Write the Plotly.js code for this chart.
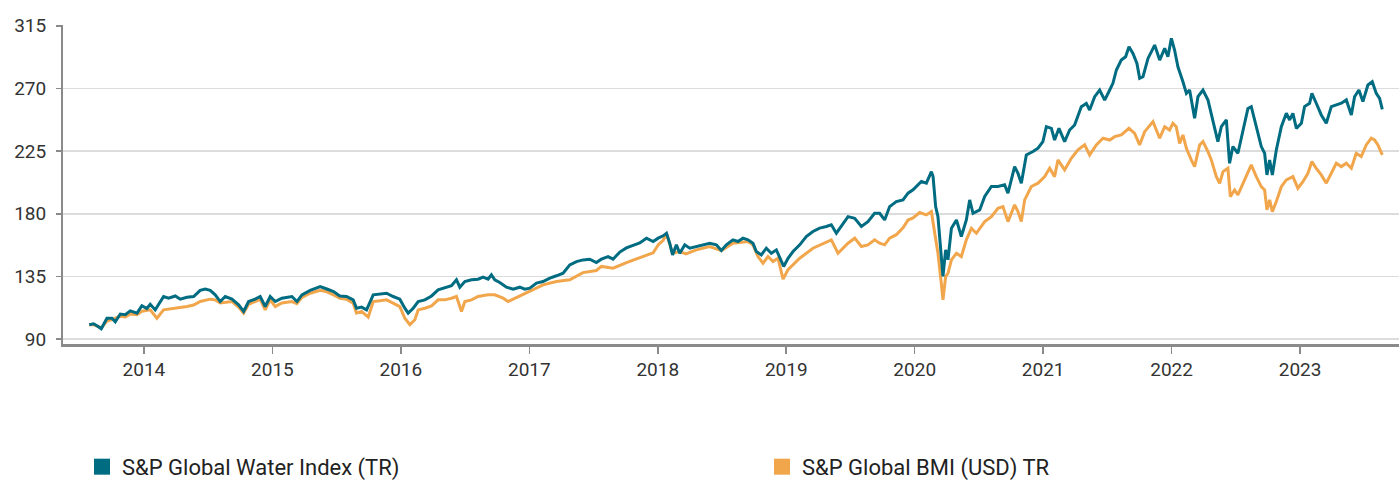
<!DOCTYPE html>
<html>
<head>
<meta charset="utf-8">
<script src="https://cdn.plot.ly/plotly-3.0.1.min.js"></script>
<style>html,body{margin:0;padding:0;background:#fff;}#chart{width:1399px;height:481px;}</style>
</head>
<body>
<div id="chart"></div>
<script>
// Decimal-year positions and index levels
const waterX = [2013.574,2013.608,2013.640,2013.668,2013.712,2013.751,2013.777,2013.816,2013.855,2013.894,2013.946,2013.984,2014.023,2014.049,2014.088,2014.153,2014.192,2014.244,2014.283,2014.335,2014.387,2014.438,2014.477,2014.516,2014.555,2014.594,2014.633,2014.685,2014.737,2014.776,2014.815,2014.866,2014.905,2014.944,2014.983,2015.022,2015.074,2015.152,2015.191,2015.230,2015.294,2015.372,2015.424,2015.476,2015.525,2015.577,2015.629,2015.655,2015.694,2015.733,2015.785,2015.837,2015.889,2015.940,2015.992,2016.031,2016.057,2016.096,2016.135,2016.187,2016.239,2016.290,2016.342,2016.394,2016.433,2016.459,2016.498,2016.550,2016.601,2016.640,2016.679,2016.705,2016.731,2016.770,2016.822,2016.874,2016.926,2016.965,2017.004,2017.056,2017.107,2017.160,2017.211,2017.263,2017.315,2017.367,2017.418,2017.470,2017.522,2017.561,2017.613,2017.652,2017.704,2017.756,2017.808,2017.860,2017.912,2017.964,2018.003,2018.042,2018.068,2018.093,2018.115,2018.145,2018.171,2018.210,2018.249,2018.300,2018.352,2018.404,2018.456,2018.495,2018.534,2018.585,2018.624,2018.663,2018.702,2018.741,2018.767,2018.806,2018.845,2018.884,2018.923,2018.949,2018.980,2019.014,2019.053,2019.105,2019.156,2019.208,2019.260,2019.312,2019.351,2019.390,2019.429,2019.481,2019.533,2019.585,2019.636,2019.688,2019.727,2019.766,2019.805,2019.857,2019.909,2019.948,2019.987,2020.026,2020.052,2020.091,2020.130,2020.143,2020.163,2020.181,2020.200,2020.220,2020.241,2020.259,2020.286,2020.325,2020.363,2020.402,2020.428,2020.454,2020.506,2020.545,2020.597,2020.648,2020.700,2020.726,2020.778,2020.804,2020.830,2020.869,2020.921,2020.960,2020.998,2021.025,2021.064,2021.089,2021.123,2021.167,2021.206,2021.245,2021.297,2021.336,2021.362,2021.401,2021.440,2021.479,2021.518,2021.543,2021.570,2021.608,2021.642,2021.668,2021.699,2021.730,2021.751,2021.777,2021.816,2021.868,2021.907,2021.946,2021.971,2021.998,2022.023,2022.049,2022.088,2022.115,2022.140,2022.179,2022.205,2022.244,2022.283,2022.321,2022.360,2022.387,2022.426,2022.451,2022.477,2022.516,2022.555,2022.594,2022.620,2022.659,2022.698,2022.724,2022.742,2022.763,2022.784,2022.815,2022.854,2022.893,2022.919,2022.944,2022.971,2023.010,2023.035,2023.074,2023.092,2023.126,2023.165,2023.204,2023.243,2023.282,2023.321,2023.360,2023.399,2023.424,2023.458,2023.489,2023.528,2023.562,2023.593,2023.619,2023.640];
const waterY = [100.3,101,99.2,97.4,105,105,102.4,108,107.5,110.3,108.7,114,112,115,111,120.6,119.4,121,118.7,120,120.6,125,126,125,121.8,117,120.6,118.7,114.6,109.9,117,118.7,120.6,113.4,120.6,117,119.4,120.6,117,121.8,125,127.8,126,124.2,121,120.6,118.2,112.2,113,111,121.8,122.3,123,120.6,118.7,112.2,108.7,112.2,117,118.2,121,125.4,126.6,128.3,132.6,127.3,131.4,132.6,133,134.5,133,136.2,132.6,130.7,127.3,125.9,127.3,125.9,126.6,130.2,131.4,133.8,135.5,137.4,143.3,145.7,146.9,147.4,145,147.4,149.3,147.4,152.5,155.5,157.3,159.1,162.5,160.1,162.5,164.2,166.1,158.9,150.5,157.7,151.7,157.7,155.3,156.5,157.7,158.9,157.7,153.6,157.7,161.3,160.1,162.5,161.3,158.9,152.9,150.5,155.3,151.7,154.1,148.1,142.2,148.1,152.9,157.7,163.7,167.3,169.7,170.9,172.1,166.1,170.9,178,176.8,170.9,174.4,180.4,180.4,175.6,185.2,188.8,190,194.8,197.2,200.8,203.2,202,210.3,206.7,185.2,178,156.5,135,154.1,147,169.7,175.6,163.7,175.6,190,180.4,182.8,192.4,199.6,199.6,200.8,194.8,213.9,209.1,201.9,222.3,224.7,227.1,231.9,242.6,241.4,233,241.4,231.9,240.2,243.8,256.9,259.3,254.5,264.1,268.9,261.7,268.9,273.7,283.3,290.4,292.8,300,295.2,288,277.3,278.5,291.6,301.2,290.4,298.8,292.8,306,297.6,285.6,274.8,266.5,268.9,248.6,264.1,268.9,261.7,247.4,231.9,242.6,247.4,216.3,228.3,223.5,240.2,255.7,256.9,242.6,228.3,223.5,207.9,218.7,207.9,225.8,242.6,252.2,247.4,252.2,241.4,245,257,259.4,266.5,259.4,251,245,257,258.2,259.4,261.8,251,264.1,268.9,260.6,272.5,274.9,266.5,262.9,255];

const bmiX = [2013.574,2013.608,2013.668,2013.712,2013.751,2013.816,2013.855,2013.894,2013.946,2013.984,2014.049,2014.101,2014.153,2014.244,2014.335,2014.387,2014.438,2014.516,2014.555,2014.594,2014.685,2014.737,2014.776,2014.815,2014.866,2014.905,2014.944,2014.983,2015.022,2015.074,2015.152,2015.191,2015.230,2015.294,2015.372,2015.424,2015.476,2015.525,2015.577,2015.629,2015.655,2015.694,2015.746,2015.785,2015.837,2015.889,2015.940,2015.992,2016.031,2016.070,2016.109,2016.135,2016.187,2016.239,2016.290,2016.342,2016.394,2016.433,2016.472,2016.498,2016.550,2016.601,2016.679,2016.731,2016.796,2016.835,2016.874,2016.926,2017.004,2017.107,2017.211,2017.315,2017.418,2017.522,2017.561,2017.652,2017.756,2017.860,2017.912,2017.964,2018.003,2018.042,2018.068,2018.093,2018.115,2018.171,2018.219,2018.300,2018.404,2018.495,2018.585,2018.702,2018.741,2018.780,2018.819,2018.858,2018.897,2018.936,2018.975,2019.014,2019.105,2019.208,2019.312,2019.351,2019.403,2019.481,2019.533,2019.585,2019.636,2019.688,2019.727,2019.766,2019.805,2019.857,2019.909,2019.948,2019.987,2020.039,2020.091,2020.130,2020.156,2020.181,2020.207,2020.220,2020.241,2020.259,2020.286,2020.325,2020.363,2020.402,2020.441,2020.480,2020.545,2020.597,2020.648,2020.687,2020.726,2020.778,2020.804,2020.830,2020.856,2020.908,2020.960,2021.012,2021.051,2021.089,2021.115,2021.167,2021.219,2021.271,2021.323,2021.362,2021.414,2021.466,2021.518,2021.557,2021.608,2021.668,2021.712,2021.751,2021.790,2021.855,2021.907,2021.946,2021.984,2022.010,2022.036,2022.062,2022.088,2022.115,2022.153,2022.179,2022.218,2022.244,2022.283,2022.309,2022.348,2022.374,2022.400,2022.438,2022.457,2022.490,2022.516,2022.555,2022.594,2022.620,2022.659,2022.698,2022.724,2022.742,2022.763,2022.784,2022.815,2022.854,2022.893,2022.944,2022.983,2023.022,2023.061,2023.092,2023.126,2023.165,2023.204,2023.243,2023.282,2023.321,2023.360,2023.399,2023.437,2023.476,2023.515,2023.554,2023.580,2023.606,2023.640];
const bmiY = [100.3,100.5,98,103,104,106.5,106,108,107.5,110,111,105,111,112,113.4,114.5,117,118.7,118.2,116,117,113,108.7,115,117,118.5,111,118.2,113.4,116,117,115.5,120,123,125,124,121.8,119.4,118.7,115.8,108.7,109.9,105.8,117,117.5,118.2,115.8,113.4,105,100.3,103.9,111,112.2,113.9,118.2,118.2,119.4,120.6,109.9,117,118.2,120.6,121.8,121.8,119.4,117,118.7,121,124.2,129,131.4,132.6,137.8,139.3,142.2,141,145,148.5,150.5,152,157.7,161,165.6,158,151.7,152.9,151.2,154.1,156.5,153.6,158.9,160.1,157.7,149.3,144.5,149.3,145.7,148.1,133.1,139.8,148.1,155.3,160.1,161.3,151.7,158.9,162.5,156.5,157.7,161.3,158.9,157.7,162.5,165,170,175.5,177,180.9,179.2,181.6,166,151.7,130.1,118.2,134.9,137.3,146.9,151.7,149.3,161.3,169.6,166,174.4,178,184,185.2,174.4,186.4,181.6,174.4,190,199.6,202,206.7,212.7,206.7,218.7,211.5,219.9,225.9,229.5,222.3,229.5,234.3,233,235.4,236.6,241.4,237.8,229.5,239,246.2,234.3,242.6,240.2,245,242.6,230.6,236.6,227,218.7,213.9,229.5,231.9,224.7,218.7,206.7,201.9,210.3,212.7,192.3,197.1,193.6,201.9,209.1,215.1,206.7,199.5,197.1,182.8,190,181.6,188.8,199.5,204.3,206.7,198.4,203.1,209.1,217.5,212.7,207.9,202,209.1,216.3,213.9,216.3,212.7,223.5,221.1,229.5,234.3,233,229.5,222.3];

const yearTicks = [2014,2015,2016,2017,2018,2019,2020,2021,2022,2023];
const yearLabels = ['2014','2015','2016','2017','2018','2019','2020','2021','2022','2023'];
const yTicks = [90,135,180,225,270,315];
const seriesNames = ['S&P Global Water Index (TR)','S&P Global BMI (USD) TR'];
const seriesColors = ['#006c82','#f2a64c'];

const traces = [
  {x: bmiX, y: bmiY, type: 'scatter', mode: 'lines', line: {color: seriesColors[1], width: 3}, showlegend: false, hoverinfo: 'skip'},
  {x: waterX, y: waterY, type: 'scatter', mode: 'lines', line: {color: seriesColors[0], width: 3}, showlegend: false, hoverinfo: 'skip'},
  {x: [null], y: [null], type: 'scatter', mode: 'markers', name: seriesNames[0], legend: 'legend', marker: {symbol: 'square', size: 16, color: seriesColors[0]}},
  {x: [null], y: [null], type: 'scatter', mode: 'markers', name: seriesNames[1], legend: 'legend2', marker: {symbol: 'square', size: 16, color: seriesColors[1]}}
];

const legendCommon = {
  orientation: 'h', xref: 'container', yref: 'container', xanchor: 'left', yanchor: 'top', y: 0.073,
  font: {size: 22, color: '#222222'}, bgcolor: 'rgba(0,0,0,0)'
};

const layout = {
  width: 1399, height: 481,
  margin: {l: 63, r: 0, t: 25, b: 137, pad: 0, autoexpand: false},
  paper_bgcolor: '#ffffff', plot_bgcolor: '#ffffff',
  font: {family: 'Roboto, "Liberation Sans", sans-serif', color: '#333333'},
  xaxis: {
    range: [2013.37, 2023.77], tickmode: 'array', tickvals: yearTicks, ticktext: yearLabels,
    showgrid: false, zeroline: false, showline: true, linecolor: '#8a8a8a', linewidth: 2.5,
    ticks: 'outside', ticklen: 7, tickwidth: 1.5, tickcolor: '#8a8a8a', tickangle: 0,
    tickfont: {size: 19, color: '#333333'}
  },
  yaxis: {
    range: [86.5, 315.6], tickmode: 'array', tickvals: yTicks,
    showgrid: true, gridcolor: '#dcdcdc', gridwidth: 1.6, zeroline: false,
    showline: true, linecolor: '#8a8a8a', linewidth: 2,
    ticks: 'outside', ticklen: 5, tickwidth: 1.5, tickcolor: '#8a8a8a',
    ticklabelstandoff: 6,
    tickfont: {size: 19, color: '#333333'}
  },
  showlegend: true,
  legend: Object.assign({}, legendCommon, {x: 82 / 1399}),
  legend2: Object.assign({}, legendCommon, {x: 762 / 1399})
};

Plotly.newPlot('chart', traces, layout, {staticPlot: true, displayModeBar: false});
</script>
</body>
</html>
